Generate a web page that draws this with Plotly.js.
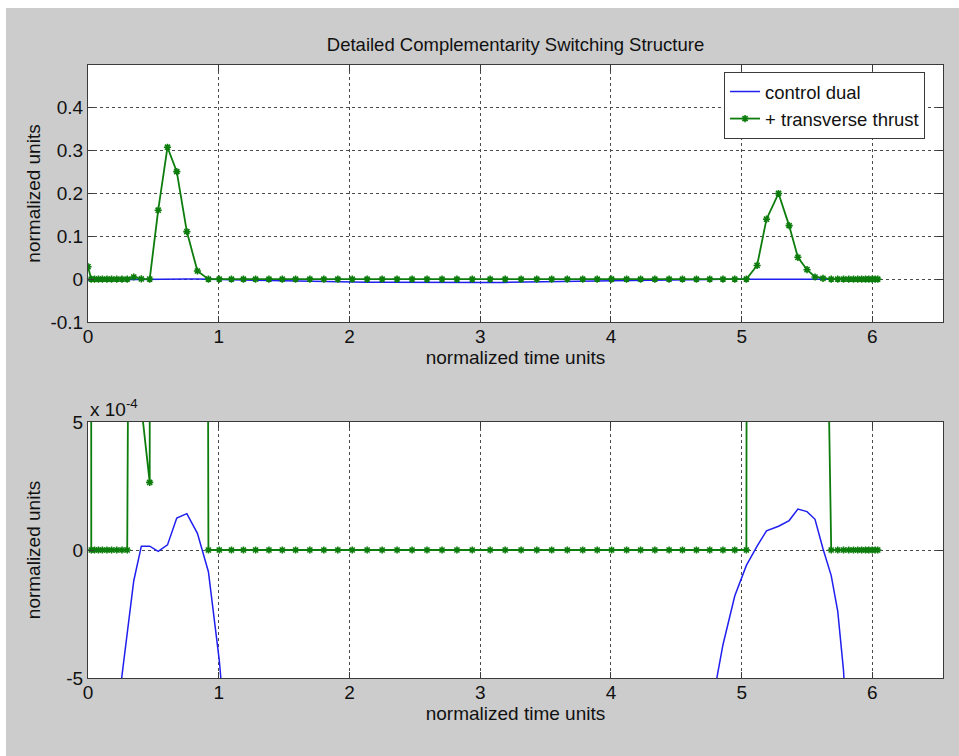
<!DOCTYPE html>
<html>
<head>
<meta charset="utf-8">
<script src="https://cdn.plot.ly/plotly-3.0.1.min.js"></script>
<style>
  html, body { margin: 0; padding: 0; background: #ffffff; }
  #chart { position: absolute; left: 6px; top: 8px; width: 953px; height: 748px; }
</style>
</head>
<body>
<div id="chart"></div>
<script>
// Collocation time nodes (normalized time units)
const timeNodes = [
  0, 0.025, 0.05, 0.08, 0.11, 0.145, 0.18, 0.22, 0.26, 0.30,
  0.35, 0.408, 0.472, 0.537, 0.608, 0.679, 0.756, 0.837, 0.921,
  1.004, 1.097, 1.189, 1.282, 1.384, 1.486, 1.588, 1.697, 1.804, 1.911,
  2.021, 2.135, 2.250, 2.364, 2.479, 2.593, 2.708, 2.822, 2.939, 3.076,
  3.191, 3.313, 3.433, 3.547, 3.666, 3.784, 3.895, 4.005, 4.120, 4.227,
  4.336, 4.445, 4.547, 4.654, 4.756, 4.857, 4.947,
  5.036, 5.118, 5.190, 5.282, 5.363, 5.430, 5.500, 5.561, 5.622, 5.685,
  5.735, 5.779, 5.819, 5.855, 5.888, 5.918, 5.947, 5.972, 5.998, 6.021, 6.041
];

// Positive transverse thrust at each node
const transverseThrust = [
  0.029, 0, 0, 0, 0, 0, 0, 0, 0, 0,
  0.005, 0.00056, 0.000264, 0.161, 0.308, 0.251, 0.111, 0.019, 0,
  0, 0, 0, 0, 0, 0, 0, 0, 0, 0,
  0, 0, 0, 0, 0, 0, 0, 0, 0, 0,
  0, 0, 0, 0, 0, 0, 0, 0, 0, 0,
  0, 0, 0, 0, 0, 0, 0,
  0, 0.032, 0.140, 0.200, 0.125, 0.051, 0.022, 0.005, 0.002, 0,
  0, 0, 0, 0, 0, 0, 0, 0, 0, 0, 0
];

// Control dual (costate of the control constraint) at each node
const controlDual = [
  -1.85e-3, -1.72e-3, -1.6e-3, -1.45e-3, -1.3e-3, -1.1e-3, -9.0e-4, -7.0e-4, -4.9e-4, -3.3e-4,
  -1.2e-4, 0.15e-4, 0.15e-4, -0.05e-4, 0.2e-4, 1.25e-4, 1.42e-4, 0.65e-4, -0.85e-4,
  -4.3e-4, -1.2e-3, -1.9e-3, -2.6e-3, -3.3e-3, -4.0e-3, -4.6e-3, -5.2e-3, -5.7e-3, -6.2e-3,
  -6.6e-3, -7.0e-3, -7.3e-3, -7.6e-3, -7.8e-3, -7.95e-3, -8.0e-3, -8.0e-3, -7.95e-3, -7.8e-3,
  -7.6e-3, -7.3e-3, -6.9e-3, -6.4e-3, -5.8e-3, -5.1e-3, -4.4e-3, -3.7e-3, -3.0e-3, -2.4e-3,
  -1.9e-3, -1.5e-3, -1.1e-3, -8.5e-4, -6.5e-4, -3.7e-4, -1.8e-4,
  -0.6e-4, 0.15e-4, 0.75e-4, 0.93e-4, 1.15e-4, 1.6e-4, 1.5e-4, 1.2e-4, 0.05e-4, -1.0e-4,
  -2.4e-4, -4.7e-4, -7.5e-4, -1.0e-3, -1.3e-3, -1.6e-3, -1.9e-3, -2.2e-3, -2.5e-3, -2.8e-3, -3.0e-3
];

// Axis ticks
const timeTicks = [0, 1, 2, 3, 4, 5, 6];
const upperTicks = [-0.1, 0, 0.1, 0.2, 0.3, 0.4];
const upperTickText = ['-0.1', '0', '0.1', '0.2', '0.3', '0.4'];
const lowerTicks = [-5e-4, 0, 5e-4];
const lowerTickText = ['-5', '0', '5'];

const seriesNames = ['control dual', '+ transverse thrust'];

const FAMILY = 'Arial, "Liberation Sans", sans-serif';
const FONT = { family: FAMILY, size: 19, color: '#111111' };
const TITLE_FONT = { family: FAMILY, size: 18.5, color: '#111111' };
const LEGEND_FONT = { family: FAMILY, size: 18.5, color: '#111111' };
const BLUE = '#1f1ff0';
const GREEN = '#0c7d0c';

const dualLine = { color: BLUE, width: 1.5 };
const thrustLine = { color: GREEN, width: 1.8 };
const thrustMarker = { symbol: 'asterisk-open', size: 6, color: GREEN, line: { color: GREEN, width: 1.6 } };

const traces = [
  { x: timeNodes, y: controlDual, name: seriesNames[0], mode: 'lines', line: dualLine, xaxis: 'x', yaxis: 'y' },
  { x: timeNodes, y: transverseThrust, name: seriesNames[1], mode: 'lines+markers', line: thrustLine, marker: thrustMarker, xaxis: 'x', yaxis: 'y' },
  { x: timeNodes, y: controlDual, name: seriesNames[0], mode: 'lines', line: dualLine, xaxis: 'x2', yaxis: 'y2', showlegend: false },
  { x: timeNodes, y: transverseThrust, name: seriesNames[1], mode: 'lines+markers', line: thrustLine, marker: thrustMarker, xaxis: 'x2', yaxis: 'y2', showlegend: false }
];

const axisCommon = {
  showline: true, linecolor: '#3a3a3a', linewidth: 1, mirror: 'ticks',
  ticks: 'inside', ticklen: 6, tickcolor: '#3a3a3a',
  showgrid: true, gridcolor: '#4a4a4a', griddash: 'dot', gridwidth: 1,
  zeroline: false, tickfont: FONT
};

const timeAxis = Object.assign({}, axisCommon, {
  domain: [0, 1], range: [0, 6.54], tickvals: timeTicks, ticklabelstandoff: -3,
  title: { text: 'normalized time units', font: FONT, standoff: 0 }
});

const layout = {
  width: 953, height: 748,
  paper_bgcolor: '#cccccc', plot_bgcolor: '#ffffff',
  margin: { l: 82, r: 16, t: 57, b: 78 },
  showlegend: true,
  title: {
    text: 'Detailed Complementarity Switching Structure', font: TITLE_FONT,
    x: 0.5, xref: 'paper', xanchor: 'center',
    y: 1 - 37 / 748, yref: 'container', yanchor: 'middle'
  },
  xaxis: Object.assign({}, timeAxis, { anchor: 'y' }),
  yaxis: Object.assign({}, axisCommon, {
    domain: [0.5808, 1], range: [-0.1, 0.5], tickvals: upperTicks, ticktext: upperTickText, anchor: 'x',
    title: { text: 'normalized units', font: FONT }
  }),
  xaxis2: Object.assign({}, timeAxis, { anchor: 'y2' }),
  yaxis2: Object.assign({}, axisCommon, {
    domain: [0, 0.4176], range: [-5e-4, 5e-4], tickvals: lowerTicks, ticktext: lowerTickText, anchor: 'x2',
    title: { text: 'normalized units', font: FONT }
  }),
  legend: {
    x: 0.979, xanchor: 'right', y: 0.9886, yanchor: 'top',
    bgcolor: '#ffffff', bordercolor: '#3a3a3a', borderwidth: 1, font: LEGEND_FONT
  },
  annotations: [{
    text: 'x 10<sup>-4</sup>', xref: 'paper', yref: 'paper', x: 0, y: 0.4176,
    xanchor: 'left', yanchor: 'bottom', showarrow: false, font: FONT
  }]
};

Plotly.newPlot('chart', traces, layout, { staticPlot: true, displayModeBar: false });
</script>
</body>
</html>
